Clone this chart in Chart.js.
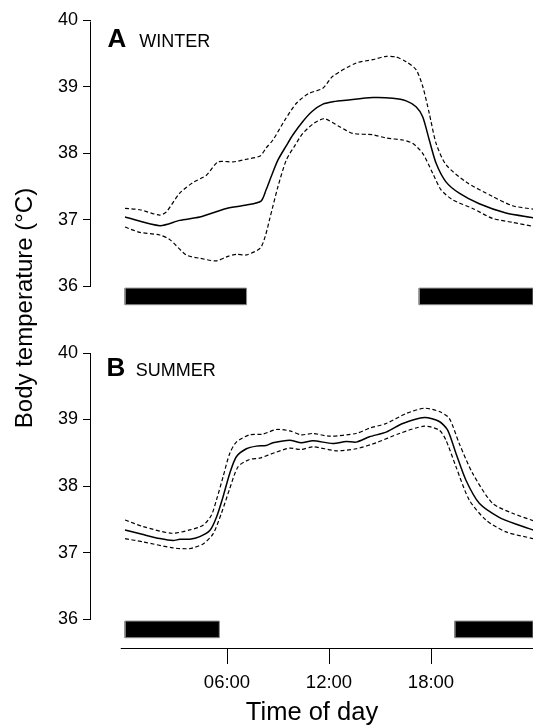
<!DOCTYPE html>
<html>
<head>
<meta charset="utf-8">
<script src="https://cdn.jsdelivr.net/npm/chart.js@4/dist/chart.umd.min.js"></script>
<style>
  body{margin:0;background:#fff}
  #wrap{position:relative;width:533px;height:727px}
  #wrap canvas{position:absolute;left:0}
</style>
</head>
<body>
<div id="wrap">
  <canvas id="winter" width="533" height="727" style="top:0;width:533px;height:727px"></canvas>
  <canvas id="summer" width="533" height="397" style="top:330px;width:533px;height:397px"></canvas>
</div>
<script>
// --- data (hours of day, body temperature in °C) ---
const yTicks = [36, 37, 38, 39, 40]
const xTicks = [6, 12, 18]
const xTickLabels = ['06:00', '12:00', '18:00']

// winter
const winterMeanHours = [0, 2.05, 3.22, 4.4, 5.97, 7.14, 8.0, 8.3, 8.6, 9.0, 9.5, 9.88, 10.46, 11.0, 11.64, 12.3, 13.0, 14.57, 15.75, 16.54, 17.12, 17.51, 17.9, 18.3, 18.88, 19.66, 20.84, 22.41, 24]
const winterMean = [37.04, 36.91, 36.99, 37.04, 37.17, 37.22, 37.28, 37.45, 37.65, 37.9, 38.12, 38.28, 38.48, 38.63, 38.74, 38.78, 38.8, 38.84, 38.83, 38.79, 38.7, 38.55, 38.2, 37.85, 37.57, 37.4, 37.24, 37.1, 37.03]
const winterUpperHours = [0, 0.87, 2.05, 2.44, 3.22, 4.0, 4.79, 5.47, 6.35, 7.14, 7.95, 8.3, 8.7, 9.4, 10.07, 10.8, 11.64, 12.22, 13.6, 14.57, 15.36, 15.95, 16.54, 17.12, 17.51, 17.9, 18.3, 18.88, 20.05, 21.62, 22.8, 24]
const winterUpper = [37.17, 37.15, 37.07, 37.12, 37.4, 37.56, 37.67, 37.87, 37.87, 37.91, 37.96, 38.08, 38.2, 38.5, 38.75, 38.9, 38.98, 39.16, 39.36, 39.41, 39.46, 39.45, 39.38, 39.26, 39.01, 38.6, 38.15, 37.83, 37.57, 37.35, 37.21, 37.16]
const winterLowerHours = [0, 0.87, 2.05, 2.64, 3.6, 4.4, 5.37, 5.97, 6.55, 7.14, 7.95, 8.25, 8.5, 9.0, 9.49, 10.0, 10.46, 11.1, 11.74, 12.62, 13.4, 14.57, 15.36, 16.34, 16.92, 17.51, 18.1, 18.59, 19.27, 20.45, 21.62, 22.8, 24]
const winterLower = [36.89, 36.81, 36.77, 36.7, 36.47, 36.42, 36.38, 36.44, 36.48, 36.47, 36.57, 36.75, 37.0, 37.5, 37.9, 38.12, 38.3, 38.45, 38.52, 38.4, 38.3, 38.28, 38.23, 38.2, 38.15, 38.0, 37.7, 37.45, 37.3, 37.17, 37.02, 36.96, 36.9]
const winterNightStart = [0, 17.3]
const winterNightEnd = [7.15, 24]

// summer
const summerMeanHours = [0, 1.07, 2.05, 2.83, 3.22, 3.81, 4.4, 4.99, 5.38, 5.77, 6.16, 6.55, 7.14, 7.73, 8.3, 8.7, 9.68, 10.37, 11.05, 12.22, 13.01, 13.6, 14.38, 15.36, 16.34, 17.61, 18.49, 18.98, 19.47, 20.05, 20.84, 22.01, 23.19, 24]
const summerMean = [37.34, 37.27, 37.21, 37.18, 37.2, 37.2, 37.24, 37.33, 37.53, 37.84, 38.19, 38.44, 38.56, 38.6, 38.61, 38.65, 38.69, 38.65, 38.68, 38.64, 38.67, 38.66, 38.74, 38.81, 38.94, 39.03, 38.97, 38.84, 38.49, 38.09, 37.74, 37.53, 37.41, 37.34]
const summerUpperHours = [0, 1.07, 2.74, 3.81, 4.59, 5.08, 5.38, 5.77, 6.16, 6.55, 7.33, 8.11, 8.9, 9.68, 10.37, 11.05, 12.03, 13.6, 14.38, 15.36, 16.54, 17.61, 18.49, 19.07, 19.66, 20.45, 21.62, 22.8, 24]
const summerUpper = [37.49, 37.39, 37.29, 37.34, 37.41, 37.56, 37.79, 38.14, 38.49, 38.66, 38.77, 38.78, 38.85, 38.83, 38.77, 38.79, 38.75, 38.79, 38.87, 38.94, 39.09, 39.17, 39.12, 39.02, 38.64, 38.19, 37.74, 37.59, 37.48]
const summerLowerHours = [0, 1.07, 2.83, 3.81, 4.59, 5.18, 5.67, 6.16, 6.65, 7.33, 7.92, 8.9, 9.68, 10.37, 11.05, 12.42, 13.6, 14.77, 16.14, 17.61, 18.49, 18.88, 19.47, 20.25, 21.23, 22.41, 24]
const summerLower = [37.21, 37.16, 37.07, 37.06, 37.13, 37.28, 37.59, 37.96, 38.29, 38.4, 38.42, 38.51, 38.57, 38.55, 38.59, 38.53, 38.56, 38.65, 38.79, 38.9, 38.84, 38.69, 38.29, 37.79, 37.49, 37.31, 37.21]
const summerNightStart = [0, 19.4]
const summerNightEnd = [5.55, 24]

// night bars sit just under 36 °C
const nightBarLow = 35.72
const nightBarHigh = 35.97

const FONT = "'Liberation Sans', Arial, Helvetica, sans-serif"

// helpers
function pts(hours, vals){ return hours.map((h, i) => ({x: h, y: vals[i]})) }
function rect(a, b){
  return [{x:a,y:nightBarLow},{x:b,y:nightBarLow},{x:b,y:nightBarHigh},{x:a,y:nightBarHigh},{x:a,y:nightBarLow}]
}
function lineSet(data, dashed){
  return { data, borderColor:'#000', borderWidth: dashed ? 1.2 : 1.5, borderDash: dashed ? [4,2.5] : [],
    pointRadius:0, tension:0.25, fill:false }
}
function nightSets(starts, ends){
  return starts.map((s, i) => ({ data: rect(s, ends[i]), borderColor:'#8a8a8a', borderWidth:1,
    backgroundColor:'#000', pointRadius:0, tension:0, fill:'shape' }))
}

// draws R-style axis lines, panel letters and the shared y title
const decor = {
  id: 'decor',
  afterDraw(chart, args, o){
    const ctx = chart.ctx, ya = chart.scales.y, xa = chart.scales.x, ca = chart.chartArea
    ctx.save()
    ctx.strokeStyle = '#000'; ctx.lineWidth = 1
    ctx.beginPath()
    ctx.moveTo(90.5, Math.round(ya.getPixelForValue(40)) + 0.5)
    ctx.lineTo(90.5, Math.round(ya.getPixelForValue(36)) + 0.5)
    ctx.stroke()
    if(o.xLine){
      const y = Math.round(ca.bottom) - 0.5
      ctx.beginPath()
      ctx.moveTo(xa.getPixelForValue(-0.25), y)
      ctx.lineTo(ca.right, y)
      ctx.stroke()
    }
    ctx.fillStyle = '#000'
    ctx.textBaseline = 'alphabetic'; ctx.textAlign = 'left'
    ctx.font = 'bold 26px ' + FONT
    ctx.fillText(o.letter, o.lx, o.ly)
    ctx.font = '18px ' + FONT
    ctx.fillText(o.text, o.tx, o.ly)
    if(o.yTitle){
      ctx.translate(31.7, 308)
      ctx.rotate(-Math.PI / 2)
      ctx.textAlign = 'center'
      ctx.font = '24px ' + FONT
      ctx.fillText(o.yTitle, 0, 0)
    }
    ctx.restore()
  }
}

function yScale(){
  return {
    min: 35.55, max: 40,
    afterBuildTicks: s => { s.ticks = yTicks.map(v => ({value: v})) },
    afterFit: s => { s.width = 91 },
    grid: { drawOnChartArea:false, tickLength:8, color:'#000', lineWidth:1 },
    border: { display:false },
    ticks: { color:'#000', padding:5, font:{ size:18, family:FONT } }
  }
}

function makeChart(id, datasets, padding, showX, decorOpts){
  return new Chart(document.getElementById(id), {
    type: 'line',
    data: { datasets },
    plugins: [decor],
    options: {
      responsive:false, animation:false, devicePixelRatio:1,
      layout: { padding },
      plugins: { legend:{display:false}, tooltip:{enabled:false}, decor: decorOpts },
      scales: {
        x: {
          type:'linear', min:-2, max:24, display: showX,
          afterBuildTicks: s => { s.ticks = xTicks.map(v => ({value: v})) },
          afterFit: s => { s.height = showX ? 78 : 0 },
          grid: { drawOnChartArea:false, tickLength:15, color:'#000', lineWidth:1 },
          border: { display:false },
          ticks: { color:'#000', padding:8, maxRotation:0, font:{ size:18.5, family:FONT },
            callback: v => xTickLabels[xTicks.indexOf(v)] },
          title: { display:true, text:'Time of day', color:'#000', padding:{top:0, bottom:1},
            font:{ size:25.5, family:FONT, lineHeight:1 } }
        },
        y: yScale()
      }
    }
  })
}

makeChart('winter', [
  ...nightSets(winterNightStart, winterNightEnd),
  lineSet(pts(winterUpperHours, winterUpper), true),
  lineSet(pts(winterLowerHours, winterLower), true),
  lineSet(pts(winterMeanHours, winterMean), false)
], {top:20.5, bottom:411, left:0, right:0}, false,
  {letter:'A', text:'WINTER', lx:107.5, tx:139.3, ly:47.3, yTitle:'Body temperature (°C)'})

makeChart('summer', [
  ...nightSets(summerNightStart, summerNightEnd),
  lineSet(pts(summerUpperHours, summerUpper), true),
  lineSet(pts(summerLowerHours, summerLower), true),
  lineSet(pts(summerMeanHours, summerMean), false)
], {top:23, bottom:0, left:0, right:0}, true,
  {letter:'B', text:'SUMMER', lx:106.5, tx:135.8, ly:46, xLine:true})
</script>
</body>
</html>
